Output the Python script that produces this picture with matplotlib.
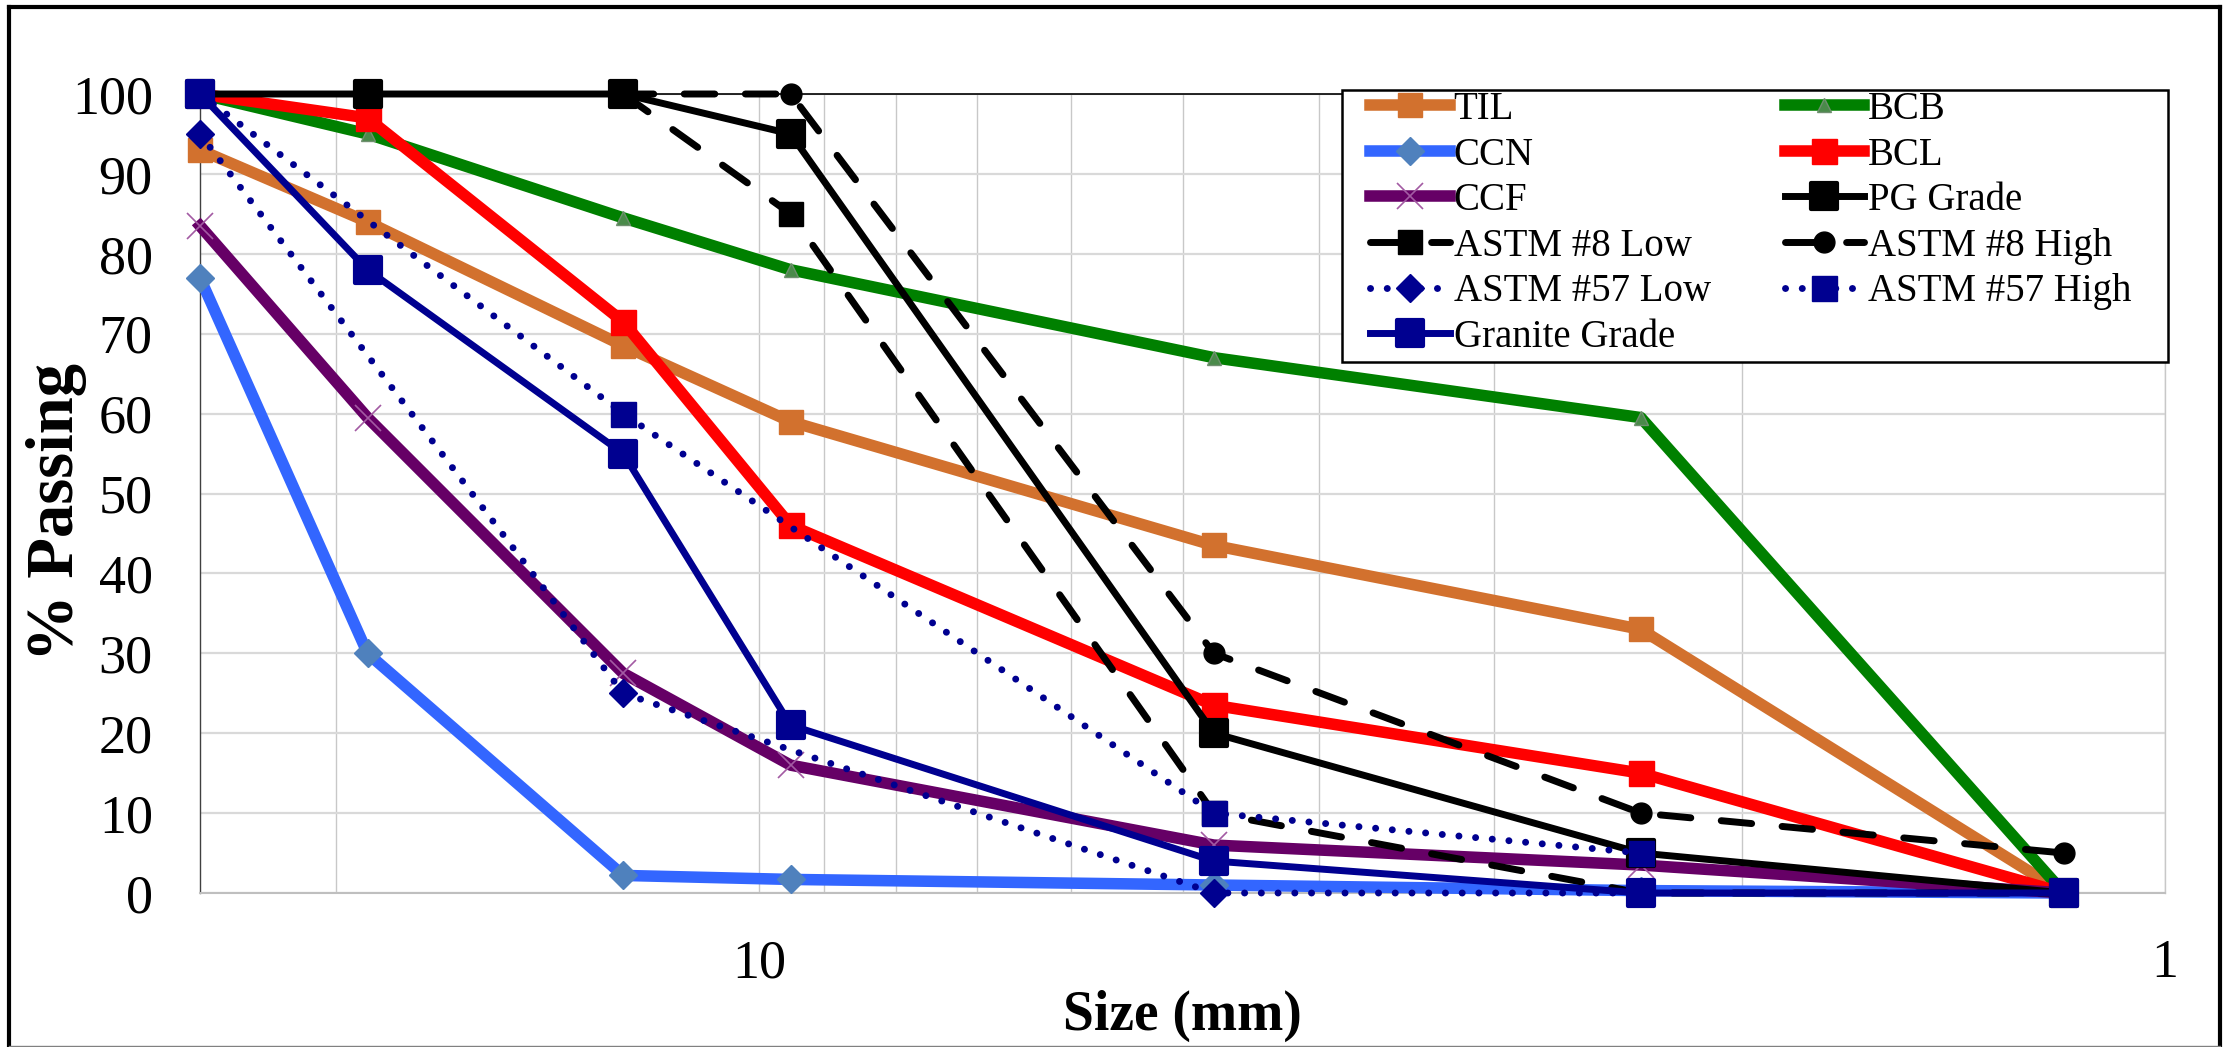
import numpy as np
import matplotlib
matplotlib.use("Agg")
import matplotlib.pyplot as plt
from matplotlib.ticker import FixedLocator, FixedFormatter, LogLocator, NullFormatter
from matplotlib.patches import Rectangle
from matplotlib.lines import Line2D
from matplotlib.markers import MarkerStyle

# Sieve analysis: % passing vs sieve size (log scale, reversed)
plt.rcParams['font.family'] = ['Liberation Serif', 'DejaVu Serif']

nan = np.nan
sizes = [25, 19, 12.5, 9.5, 4.75, 2.36, 1.18]

til = [93, 84, 68.5, 59, 43.5, 33, 0]
bcb = [100, 95, 84.5, 78, 67, 59.5, 0]
ccn = [77, 30, 2.2, 1.7, 1.0, 0.3, 0]
bcl = [100, 97, 71.5, 46, 23.5, 15, 0]
ccf = [83.5, 59.5, 27.5, 16, 6, 3.5, 0]
pg_grade = [100, 100, 100, 95, 20, 5, 0]
astm8_low = [nan, nan, 100, 85, 10, 0, 0]
astm8_high = [nan, nan, 100, 100, 30, 10, 5]
astm57_low = [95, nan, 25, nan, 0, 0, nan]
astm57_high = [100, nan, 60, nan, 10, 5, nan]
granite = [100, 78, 55, 21, 4, 0, 0]

NAVY = '#000090'
THICK = 8.3
THIN = 5.0
dash = (0, (4.4, 4.4))
dot = (0, (0.01, 2.4))
SQ = MarkerStyle('s', joinstyle='round')

# drawn in this order (later on top), like the spreadsheet series order
SERIES = [
    ("TIL", til, dict(color='#D2712E', lw=THICK, marker='s', ms=17, mfc='#D2712E', mec='#D2712E')),
    ("BCB", bcb, dict(color='#008000', lw=THICK, marker='^', ms=10, mfc='#4A8A4A', mec='#6F8F6F', mew=1)),
    ("CCN", ccn, dict(color='#3366FF', lw=THICK, marker='D', ms=14, mfc='#4F81BD', mec='#4F81BD')),
    ("BCL", bcl, dict(color='#FF0000', lw=THICK, marker='s', ms=18, mfc='#FF0000', mec='#FF0000')),
    ("CCF", ccf, dict(color='#660066', lw=THICK, marker='x', ms=19, mec='#A35BA3', mew=1.2)),
    ("PG Grade", pg_grade, dict(color='black', lw=THIN, marker=SQ, ms=19, mfc='black', mec='black', mew=3)),
    ("ASTM #8 Low", astm8_low, dict(color='black', lw=THIN, ls=dash, dash_capstyle='round',
                                    marker='s', ms=17, mfc='black', mec='black')),
    ("ASTM #8 High", astm8_high, dict(color='black', lw=THIN, ls=dash, dash_capstyle='round',
                                      marker='o', ms=15, mfc='black', mec='black')),
    ("ASTM #57 Low", astm57_low, dict(color=NAVY, lw=THIN, ls=dot, dash_capstyle='round',
                                      marker='D', ms=14, mfc=NAVY, mec=NAVY)),
    ("ASTM #57 High", astm57_high, dict(color=NAVY, lw=THIN, ls=dot, dash_capstyle='round',
                                        marker='s', ms=18, mfc=NAVY, mec=NAVY)),
    ("Granite Grade", granite, dict(color=NAVY, lw=THIN, marker=SQ, ms=19, mfc=NAVY, mec=NAVY, mew=3)),
]

W, H = 2230, 1047
fig = plt.figure(figsize=(W / 100, H / 100), dpi=100)
ax = fig.add_axes([200 / W, 1 - 893 / H, (2165 - 200) / W, (893 - 94) / H])

x = np.array(sizes)
handles = {}
for i, (name, vals, style) in enumerate(SERIES):
    y = np.array(vals, dtype=float)
    m = ~np.isnan(y)
    line, = ax.plot(x[m], y[m], label=name, zorder=3 + i, clip_on=False, **style)
    handles[name] = line

ax.set_xscale('log')
ax.set_xlim(25, 1)
ax.set_ylim(0, 100)
ax.set_yticks(np.arange(0, 101, 10))
ax.xaxis.set_major_locator(FixedLocator([1, 10]))
ax.xaxis.set_major_formatter(FixedFormatter(['1', '10']))
ax.xaxis.set_minor_locator(LogLocator(base=10, subs=np.arange(2, 10)))
ax.xaxis.set_minor_formatter(NullFormatter())
ax.tick_params(axis='both', which='both', length=0)
ax.tick_params(axis='y', labelsize=39, pad=34)
ax.tick_params(axis='x', labelsize=39, pad=33)

ax.grid(True, axis='y', color='#D9D9D9', lw=1.6)
ax.grid(True, axis='x', which='both', color='#C8C8C8', lw=1.0)
ax.set_axisbelow(True)
ax.spines['left'].set_color('#404040')
ax.spines['left'].set_linewidth(1.0)
ax.spines['top'].set_color('black')
ax.spines['top'].set_linewidth(1.2)
ax.spines['right'].set_color('#C8C8C8')
ax.spines['right'].set_linewidth(1.0)
ax.spines['bottom'].set_color('#BFBFBF')
ax.spines['bottom'].set_linewidth(1.5)

fig.text(57 / W, 1 - 512 / H, '% Passing', rotation=90, ha='center', va='center',
         fontsize=48, fontweight='bold')
fig.text(1182 / W, 1 - 1016 / H, 'Size (mm)', ha='center', va='center',
         fontsize=40, fontweight='bold')

# legend box drawn separately so its frame matches the original position
box = Rectangle((1342 / W, 1 - 362 / H), (2168 - 1342) / W, (362 - 90) / H,
                transform=fig.transFigure, facecolor='white', edgecolor='black',
                lw=1.8, zorder=30, clip_on=False)
ax.add_patch(box)

order = ["TIL", "CCN", "CCF", "ASTM #8 Low", "ASTM #57 Low", "Granite Grade",
         "BCB", "BCL", "PG Grade", "ASTM #8 High", "ASTM #57 High"]
leg = ax.legend([handles[n] for n in order], order, ncol=2, frameon=False,
                loc='upper left', bbox_to_anchor=(1370 / W, 1 - 91 / H),
                bbox_transform=fig.transFigure, borderpad=0, borderaxespad=0,
                fontsize=28, handlelength=2.05, handletextpad=0.1,
                labelspacing=0.22, columnspacing=1.9)
leg.set_zorder(31)

# outer frame of the picture
fig.add_artist(Line2D([9 / W, 9 / W], [0, 1 - 7 / H], transform=fig.transFigure, color='black', lw=3))
fig.add_artist(Line2D([9 / W, 2220 / W], [1 - 7 / H, 1 - 7 / H], transform=fig.transFigure, color='black', lw=3))
fig.add_artist(Line2D([2220 / W, 2220 / W], [0, 1 - 7 / H], transform=fig.transFigure, color='black', lw=3))
fig.add_artist(Line2D([9 / W, 2220 / W], [1 / H, 1 / H], transform=fig.transFigure, color='#808080', lw=1))

fig.savefig('out.png', dpi=100, facecolor='white')
